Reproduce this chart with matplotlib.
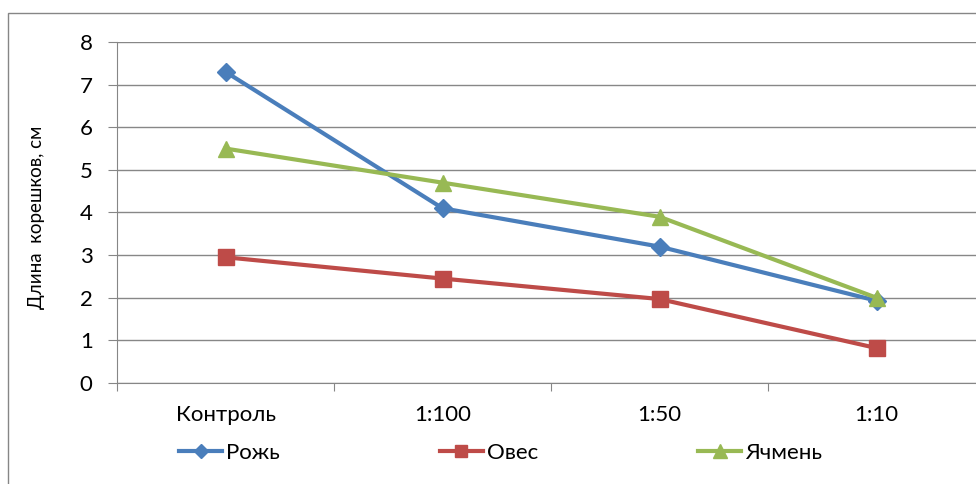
import matplotlib.pyplot as plt
from matplotlib.patches import Rectangle

categories = ["Контроль", "1:100", "1:50", "1:10"]
rye = [7.3, 4.1, 3.2, 1.93]
oats = [2.95, 2.45, 1.97, 0.82]
barley = [5.5, 4.7, 3.9, 2.0]

plt.rcParams["font.family"] = ["Lato", "DejaVu Sans"]

fig = plt.figure(figsize=(9.76, 4.84), dpi=100)
ax = fig.add_axes([117 / 976, 1 - 383 / 484, 868 / 976, 341 / 484])

x = range(len(categories))
ax.plot(x, rye, color="#4A7EBB", lw=3, marker="D", ms=9, label="Рожь", clip_on=False)
ax.plot(x, oats, color="#BE4B48", lw=3, marker="s", ms=11, label="Овес", clip_on=False)
ax.plot(x, barley, color="#98B954", lw=3, marker="^", ms=12, label="Ячмень", clip_on=False)

ax.set_xlim(-0.5, 3.5)
ax.set_ylim(0, 8)
ax.set_yticks(range(0, 9))
ax.set_xticks([i - 0.5 for i in range(5)], minor=False)
ax.set_xticklabels([])
ax.set_xticks(list(x), minor=True)
ax.set_xticklabels(categories, minor=True)
ax.tick_params(axis="x", which="minor", length=0, pad=16, labelsize=16)
ax.tick_params(axis="x", which="major", length=6, color="#868686")
ax.tick_params(axis="y", length=6.5, pad=11, color="#868686", labelsize=16)

ax.grid(axis="y", color="#878787", lw=1)
ax.set_axisbelow(True)
for s in ["top", "right"]:
    ax.spines[s].set_visible(False)
for s in ["left", "bottom"]:
    ax.spines[s].set_color("#868686")

ax.set_ylabel("Длина  корешков, см", fontsize=13.5)
ax.yaxis.set_label_coords(-0.083, 0.487)

fig.legend(loc="center", bbox_to_anchor=(0.513, 0.064), ncol=3, frameon=False,
           fontsize=16, handlelength=1.94, handletextpad=0.18, columnspacing=7.2,
           markerscale=0.8)

fig.patches.append(Rectangle((8 / 976, -0.1), 1.2, 1.1 - 13 / 484,
                             transform=fig.transFigure, fill=False,
                             edgecolor="#868686", lw=1))

fig.savefig("out.png")
